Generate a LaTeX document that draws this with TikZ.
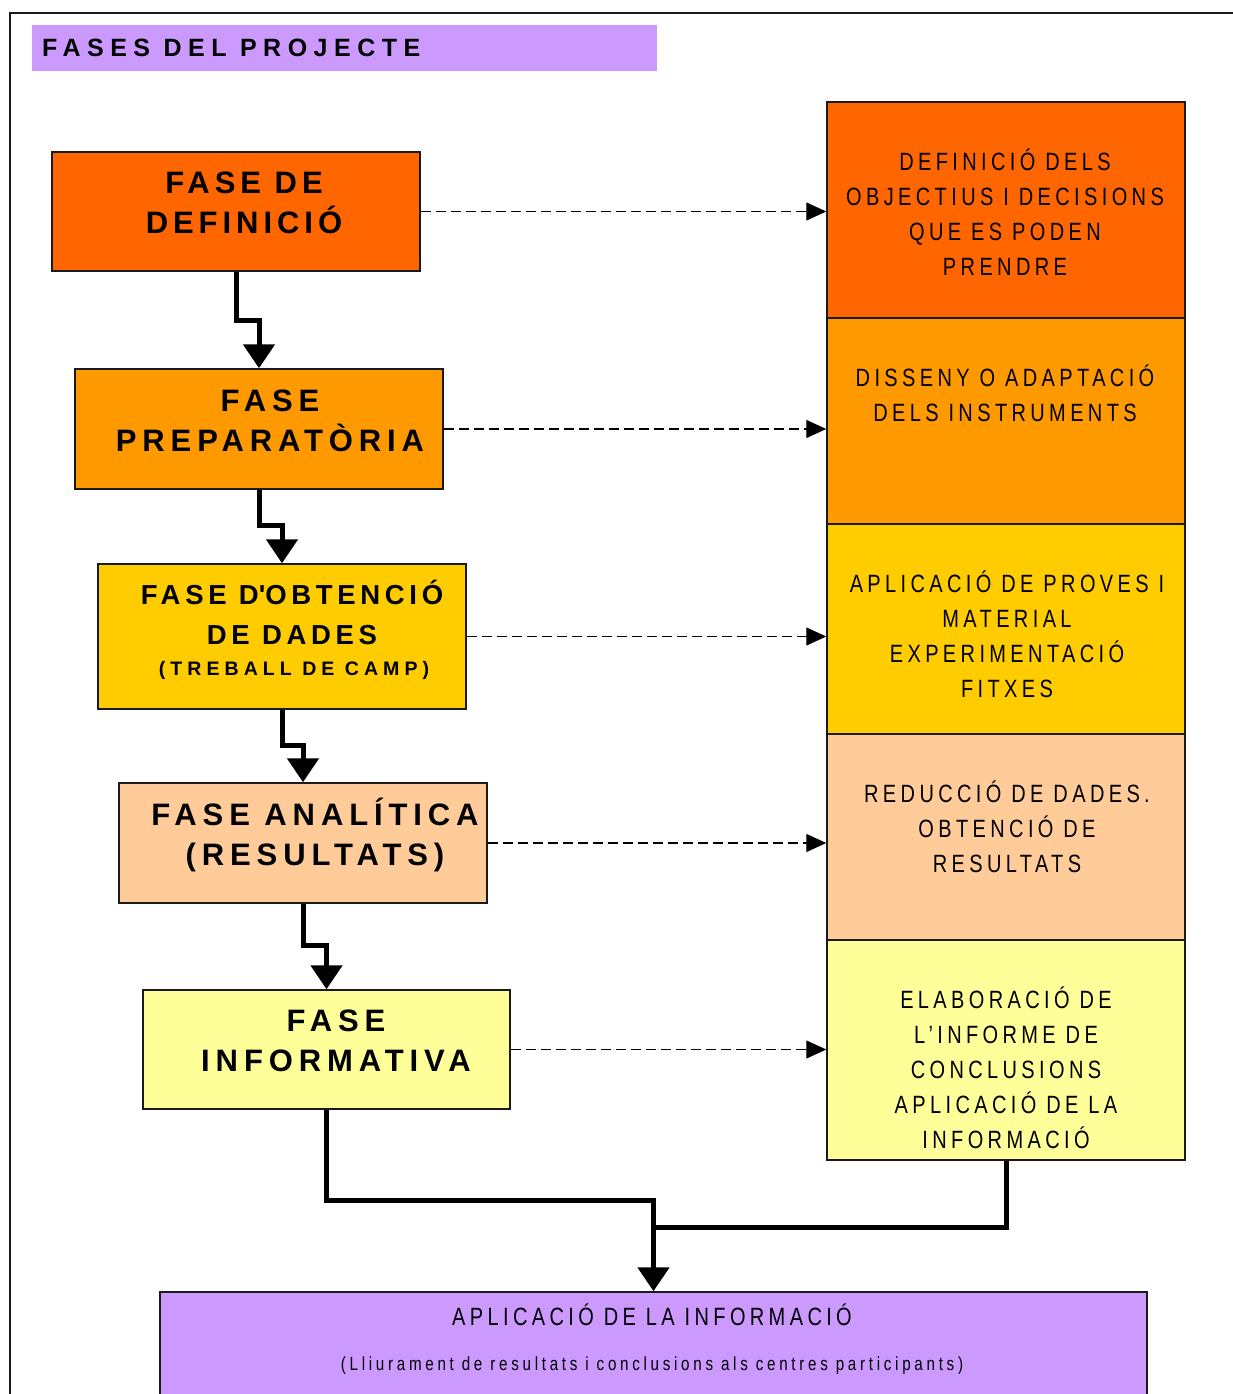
\documentclass[tikz,border=0pt]{standalone}
\usepackage{fontspec}
\setmainfont{Liberation Sans}
\newfontfamily\phasefont[LetterSpace=16]{Liberation Sans}
\newfontfamily\widephasefont[LetterSpace=19]{Liberation Sans}
\newfontfamily\midphasefont[LetterSpace=17]{Liberation Sans}
\newfontfamily\smallphasefont[LetterSpace=26]{Liberation Sans}
\newfontfamily\narrowfont[FakeStretch=0.8,LetterSpace=17.5]{Liberation Sans}
\newfontfamily\subnarrowfont[FakeStretch=0.8,LetterSpace=19.5]{Liberation Sans}
\newfontfamily\titlefont[LetterSpace=26]{Liberation Sans}
\usetikzlibrary{arrows.meta}
\newcommand{\firstln}{\rule{0pt}{1em}}
\definecolor{cPurple}{HTML}{CC99FF}
\definecolor{cOne}{HTML}{FF6600}
\definecolor{cTwo}{HTML}{FF9900}
\definecolor{cThree}{HTML}{FFCC00}
\definecolor{cFour}{HTML}{FFCC99}
\definecolor{cFive}{HTML}{FFFF99}
\definecolor{cBorder}{HTML}{1A1A1A}
\begin{document}
\begin{tikzpicture}[x=1pt,y=-1pt,
  phase/.style={draw=cBorder, line width=1.5pt, minimum width=368pt, inner sep=0pt},
  desc/.style={draw=cBorder, line width=1.5pt, minimum width=358pt, inner sep=0pt},
  ptext/.style={anchor=north, inner sep=0pt, align=center, font=\phasefont\bfseries\fontsize{31}{40}\selectfont},
  wptext/.style={ptext, font=\widephasefont\bfseries\fontsize{31}{40}\selectfont},
  dtext/.style={anchor=north, inner sep=0pt, align=center, font=\narrowfont\fontsize{25}{35}\selectfont},
  flow/.style={line width=5pt, line join=miter, -{Triangle[length=24pt,width=31pt]}},
  plainflow/.style={line width=5pt, line join=miter},
  link/.style={line width=1.3pt, dash pattern=on 10pt off 5pt, -{Triangle[length=20pt,width=18pt]}}
]
\useasboundingbox (0,0) rectangle (1233,1394);
\fill[white] (0,0) rectangle (1233,1394);
% frame
\draw[line width=1.5pt, cBorder] (10,1394) -- (10,13) -- (1233,13);
% title
\node[fill=cPurple, minimum width=625pt, minimum height=46pt, inner sep=0pt] (titlebar) at (344.5,48) {};
\node[anchor=base west, inner sep=0pt, font=\titlefont\bfseries\fontsize{25}{30}\selectfont] (title) at (42,57) {FASES DEL PROJECTE};

% left phase boxes
\node[phase, fill=cOne, minimum height=119pt] (b1) at (236,211.5) {};
\node[phase, fill=cTwo, minimum height=120pt] (b2) at (259,429) {};
\node[phase, fill=cThree, minimum height=145pt] (b3) at (282,636.5) {};
\node[phase, fill=cFour, minimum height=120pt] (b4) at (303,843) {};
\node[phase, fill=cFive, minimum width=367pt, minimum height=119pt] (b5) at (326.5,1049.5) {};

\node[ptext] (t1) at (244,162) {\firstln FASE DE\\DEFINICIÓ};
\node[wptext] (t2) at (270,380) {\firstln FASE\\PREPARATÒRIA};
\node[anchor=north, inner sep=0pt, align=center, font=\midphasefont\bfseries\fontsize{27.5}{40}\selectfont] (t3) at (292,576.5) {\firstln FASE D\textquotesingle OBTENCIÓ\\DE DADES};
\node[anchor=base, inner sep=0pt, font=\smallphasefont\bfseries\fontsize{19.5}{24}\selectfont] (t3b) at (294,675) {(TREBALL DE CAMP)};
\node[wptext] (t4) at (315,794) {\firstln FASE ANALÍTICA\\(RESULTATS)};
\node[wptext] (t5) at (336,1000) {\firstln FASE\\INFORMATIVA};

% right description boxes
\node[desc, fill=cOne, minimum height=216pt] (r1) at (1006,210) {};
\node[desc, fill=cTwo, minimum height=206pt] (r2) at (1006,421) {};
\node[desc, fill=cThree, minimum height=210pt] (r3) at (1006,629) {};
\node[desc, fill=cFour, minimum height=206pt] (r4) at (1006,837) {};
\node[desc, fill=cFive, minimum height=220pt] (r5) at (1006,1050) {};

\node[dtext] (d1) at (1005,145) {\firstln DEFINICIÓ DELS\\OBJECTIUS I DECISIONS\\QUE ES PODEN\\PRENDRE};
\node[dtext] (d2) at (1005,361) {\firstln DISSENY O ADAPTACIÓ\\DELS INSTRUMENTS};
\node[dtext] (d3) at (1007,567) {\firstln APLICACIÓ DE PROVES I\\MATERIAL\\EXPERIMENTACIÓ\\FITXES};
\node[dtext] (d4) at (1007,777) {\firstln REDUCCIÓ DE DADES.\\OBTENCIÓ DE\\RESULTATS};
\node[dtext] (d5) at (1006,983) {\firstln ELABORACIÓ DE\\L’INFORME DE\\CONCLUSIONS\\APLICACIÓ DE LA\\INFORMACIÓ};

% bottom box
\node[draw=cBorder, line width=1.5pt, fill=cPurple, minimum width=987pt, minimum height=110pt, inner sep=0pt] (bot) at (653.5,1347) {};
\node[dtext] (bt) at (652,1300) {\firstln APLICACIÓ DE LA INFORMACIÓ};
\node[anchor=base, inner sep=0pt, font=\subnarrowfont\fontsize{19}{22}\selectfont] (bs) at (652,1370) {(Lliurament de resultats i conclusions als centres participants)};

% dashed links
\draw[link] (b1.east) -- (b1.east -| r1.west);
\draw[link] (b2.east) -- (b2.east -| r2.west);
\draw[link] (b3.east) -- (b3.east -| r3.west);
\draw[link] (b4.east) -- (b4.east -| r4.west);
\draw[link] (b5.east) -- (b5.east -| r5.west);

% thick flow arrows
\draw[flow] (b1.south) -- ++(0,49) -| (b2.north);
\draw[flow] (b2.south) -- ++(0,36) -| (b3.north);
\draw[flow] (b3.south) -- ++(0,36) -| (b4.north);
\draw[flow] (b4.south) -- ++(0,42) -| (b5.north);
\coordinate (joint) at (654,1227);
\draw[flow] (b5.south) -- ++(0,91) -| (bot.north);
\draw[plainflow] (r5.south) |- (joint);
\end{tikzpicture}
\end{document}
